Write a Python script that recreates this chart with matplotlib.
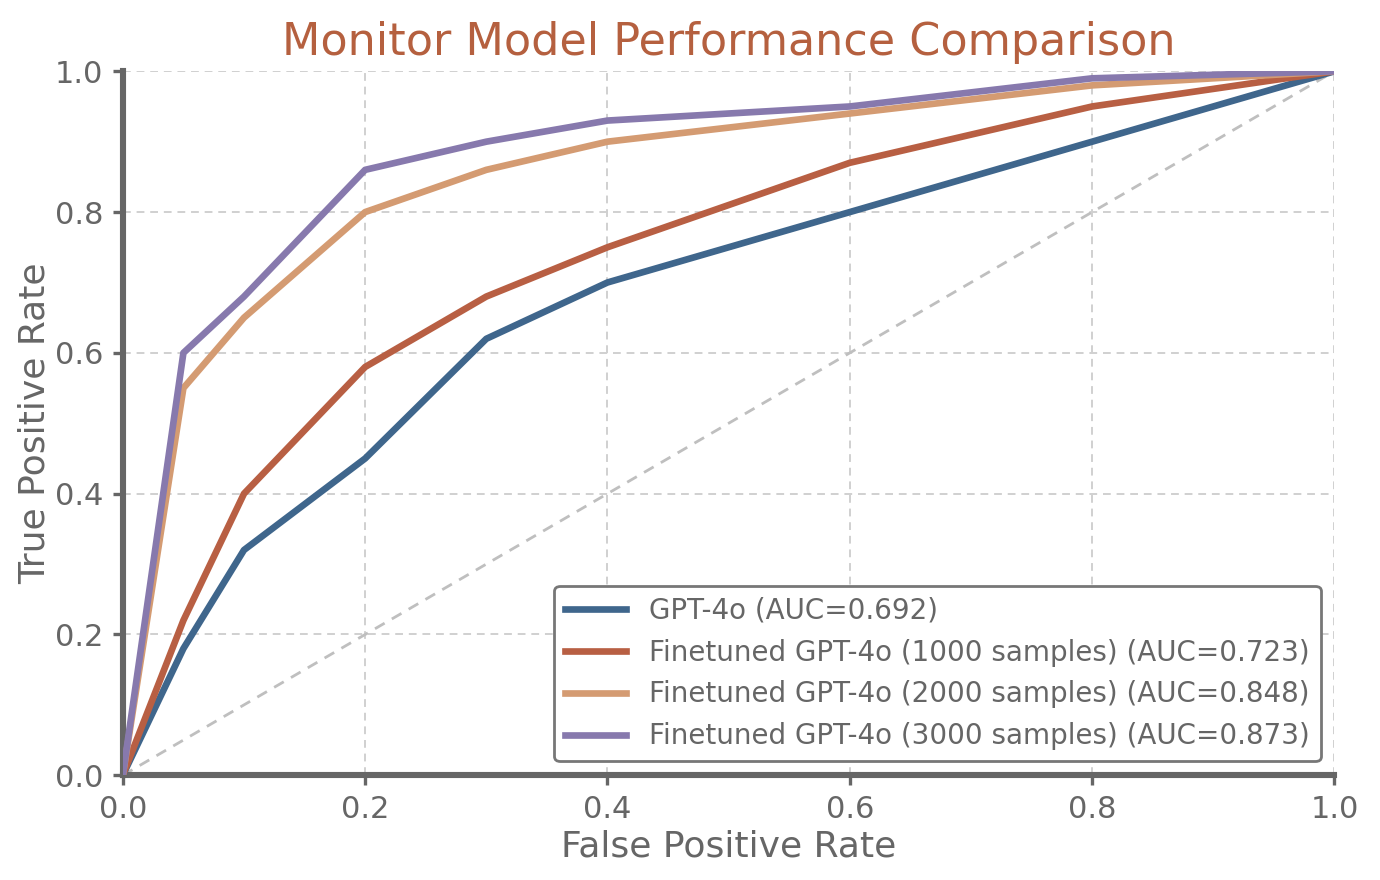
import matplotlib.pyplot as plt
import numpy as np

plt.rcParams['font.family'] = ['DejaVu Sans']

fpr = [0.0, 0.05, 0.1, 0.2, 0.3, 0.4, 0.6, 0.8, 1.0]
tpr_base = [0.0, 0.18, 0.32, 0.45, 0.62, 0.70, 0.80, 0.90, 1.0]
tpr_1000 = [0.0, 0.22, 0.40, 0.58, 0.68, 0.75, 0.87, 0.95, 1.0]
tpr_2000 = [0.0, 0.55, 0.65, 0.80, 0.86, 0.90, 0.94, 0.98, 1.0]
tpr_3000 = [0.0, 0.60, 0.68, 0.86, 0.90, 0.93, 0.95, 0.99, 1.0]

labels = ['GPT-4o (AUC=0.692)',
          'Finetuned GPT-4o (1000 samples) (AUC=0.723)',
          'Finetuned GPT-4o (2000 samples) (AUC=0.848)',
          'Finetuned GPT-4o (3000 samples) (AUC=0.873)']
colors = ['#3f668c', '#b85f43', '#d49b72', '#8779ad']

grey = '#666666'

fig = plt.figure(figsize=(6.9, 4.4), dpi=200)
ax = fig.add_axes([0.089, 0.119, 0.878, 0.8])

ax.plot([0, 1], [0, 1], color='#bfbfbf', lw=1, ls='--', dashes=(4, 3), zorder=1)
for tpr, lab, c in zip([tpr_base, tpr_1000, tpr_2000, tpr_3000], labels, colors):
    ax.plot(fpr, tpr, color=c, lw=2.4, label=lab, zorder=3)

ax.set_xlim(0, 1)
ax.set_ylim(0, 1)
ax.set_xticks(np.arange(0, 1.01, 0.2))
ax.set_yticks(np.arange(0, 1.01, 0.2))
ax.grid(True, color='#d0d0d0', ls='--', lw=0.7, dashes=(4, 3))
ax.set_axisbelow(True)

for s in ['top', 'right']:
    ax.spines[s].set_visible(False)
for s in ['left', 'bottom']:
    ax.spines[s].set_color(grey)
    ax.spines[s].set_linewidth(2.2)

ax.tick_params(colors=grey, labelsize=11, direction='out', length=3.5, width=1.2)
ax.set_xlabel('False Positive Rate', fontsize=13, color=grey, labelpad=2)
ax.set_ylabel('True Positive Rate', fontsize=13, color=grey, labelpad=1)
ax.set_title('Monitor Model Performance Comparison', fontsize=16, color='#b5603f', pad=6)

leg = ax.legend(loc='lower right', fontsize=10, frameon=True, fancybox=True,
                framealpha=1, edgecolor='#777777', labelcolor=grey, handlelength=2.2)
leg.get_frame().set_linewidth(1)

plt.savefig('out.png', dpi=200)
